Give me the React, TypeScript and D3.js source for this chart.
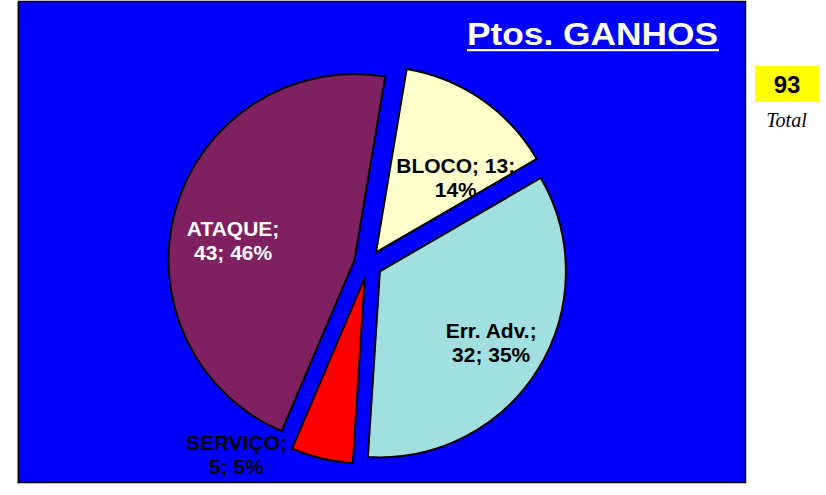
import React, { useEffect, useRef } from 'react';
import * as d3 from 'd3';

// Datos del gráfico
const categories = ['BLOCO', 'Err. Adv.', 'SERVIÇO', 'ATAQUE'];
const values = [13, 32, 5, 43];
const percents = ['14%', '35%', '5%', '46%'];
const sliceColors = ['#FFFFCC', '#A2DFE0', '#FF0000', '#7F2060'];
const labelColors = ['#000000', '#000000', '#000000', '#FFFFFF'];
const title = 'Ptos. GANHOS';
const totalLabel = 'Total';

const W = 826;
const H = 495;

const App = () => {
    const svgRef = useRef<SVGSVGElement>(null);

    useEffect(() => {
        const svg = d3.select(svgRef.current);
        svg.selectAll('*').remove();

        const font = 'Liberation Sans, Arial, sans-serif';

        // Fondo azul del área del gráfico
        svg.append('line')
            .attr('x1', 17.5).attr('x2', 17.5)
            .attr('y1', 2).attr('y2', 484)
            .attr('stroke', '#b0b0b0');
        svg.append('rect')
            .attr('x', 18.5).attr('y', 1.5)
            .attr('width', 727).attr('height', 481)
            .attr('fill', '#0000FF')
            .attr('stroke', '#000')
            .attr('stroke-width', 1.5);

        // Título subrayado
        svg.append('text')
            .attr('x', 467).attr('y', 44.5)
            .attr('fill', '#fff')
            .attr('font-family', font)
            .attr('font-weight', 'bold')
            .attr('font-size', 31)
            .attr('textLength', 251)
            .attr('lengthAdjust', 'spacingAndGlyphs')
            .text(title);
        svg.append('rect')
            .attr('x', 467).attr('y', 49)
            .attr('width', 252).attr('height', 2.2)
            .attr('fill', '#fff');

        // Pie
        const cx = 368, cy = 264, R = 186, explode = 14;
        const total = d3.sum(values);
        const start = (9.5 * Math.PI) / 180;
        const pie = d3.pie<number>().sort(null).startAngle(start).endAngle(start + 2 * Math.PI);
        const arcs = pie(values);
        const arc = d3.arc<d3.PieArcDatum<number>>().innerRadius(0).outerRadius(R);

        const g = svg.append('g').attr('transform', `translate(${cx},${cy})`);
        g.selectAll('path')
            .data(arcs)
            .join('path')
            .attr('transform', d => {
                const a = (d.startAngle + d.endAngle) / 2;
                return `translate(${explode * Math.sin(a)},${-explode * Math.cos(a)})`;
            })
            .attr('d', arc)
            .attr('fill', (_, i) => sliceColors[i])
            .attr('stroke', '#000')
            .attr('stroke-width', 2)
            .attr('stroke-linejoin', 'miter');

        // Posición de etiquetas: ángulo (grados) y radio desde el centro
        const labelPos = [
            { a: 45.5, r: 123 },
            { a: 122.5, r: 146 },
            { a: 214.6, r: 232 },
            { a: 280, r: 137 },
        ];
        const lines = (i: number) =>
            i === 0
                ? [`${categories[i]}; ${values[i]};`, percents[i]]
                : [`${categories[i]};`, `${values[i]}; ${percents[i]}`];

        arcs.forEach((d, i) => {
            const p = labelPos[i];
            const a = (p.a * Math.PI) / 180;
            const lx = p.r * Math.sin(a);
            const ly = -p.r * Math.cos(a);
            const t = g.append('g')
                .attr('transform', `translate(${lx},${ly}) scale(1.05,1)`);
            lines(i).forEach((ln, k) => {
                t.append('text')
                    .attr('x', 0)
                    .attr('y', -4.5 + k * 24)
                    .attr('text-anchor', 'middle')
                    .attr('fill', labelColors[i])
                    .attr('font-family', font)
                    .attr('font-weight', 'bold')
                    .attr('font-size', 20)
                    .text(ln);
            });
        });

        // Caja del total
        svg.append('rect')
            .attr('x', 755).attr('y', 66)
            .attr('width', 64).attr('height', 36)
            .attr('fill', '#FFFF00');
        svg.append('text')
            .attr('x', 787).attr('y', 93)
            .attr('text-anchor', 'middle')
            .attr('font-family', font)
            .attr('font-weight', 'bold')
            .attr('font-size', 24)
            .attr('fill', '#000')
            .text(total);
        svg.append('text')
            .attr('x', 786.5).attr('y', 127)
            .attr('text-anchor', 'middle')
            .attr('font-family', 'Liberation Serif, Times New Roman, serif')
            .attr('font-style', 'italic')
            .attr('font-size', 20)
            .attr('fill', '#000')
            .text(totalLabel);
    }, []);

    return (
        <svg
            ref={svgRef}
            width={W}
            height={H}
            style={{ position: 'absolute', left: 0, top: 0, background: '#fff' }}
        ></svg>
    );
};

export default App;
